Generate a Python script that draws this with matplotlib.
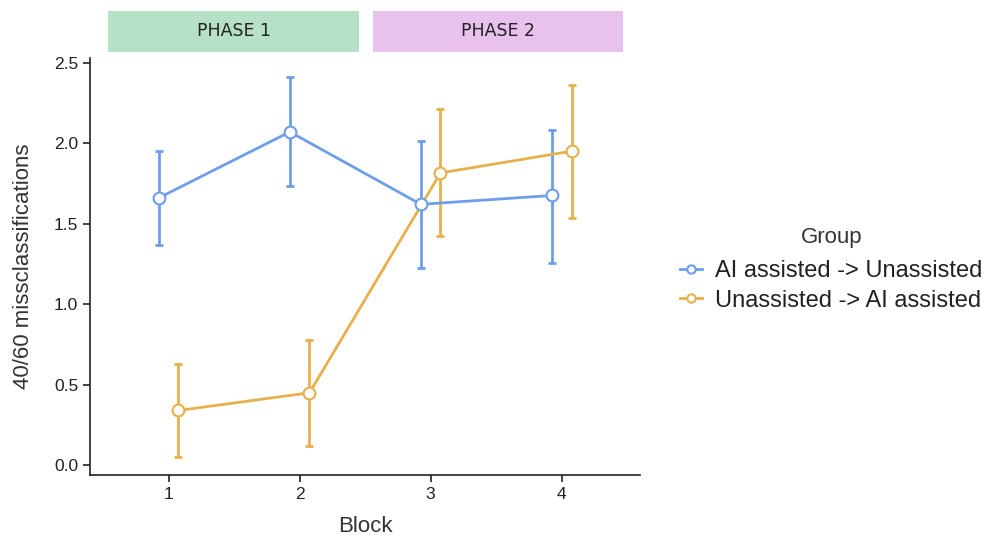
import matplotlib.pyplot as plt
from matplotlib.transforms import blended_transform_factory
from matplotlib.lines import Line2D
import numpy as np

plt.rcParams['font.family'] = ['Liberation Sans', 'DejaVu Sans']

# Data
blocks = [1, 2, 3, 4]
groups = ["AI assisted -> Unassisted", "Unassisted -> AI assisted"]
colors = ["#6d9eeb", "#e8b04b"]

ai_first_mean = [1.66, 2.07, 1.62, 1.675]
ai_first_low = [1.37, 1.735, 1.225, 1.255]
ai_first_high = [1.95, 2.41, 2.015, 2.08]

unassisted_first_mean = [0.34, 0.45, 1.815, 1.95]
unassisted_first_low = [0.05, 0.12, 1.425, 1.535]
unassisted_first_high = [0.63, 0.78, 2.21, 2.36]

phases = ["PHASE 1", "PHASE 2"]
phase_colors = ["#b7e1c6", "#e8c1ec"]
phase_spans = [(0.54, 2.45), (2.56, 4.47)]

DODGE = 0.075

fig = plt.figure(figsize=(9.95, 5.45), dpi=100)
ax = fig.add_axes([0.0905, 0.128, 0.553, 0.766])

series = [
    (ai_first_mean, ai_first_low, ai_first_high, -DODGE),
    (unassisted_first_mean, unassisted_first_low, unassisted_first_high, DODGE),
]
for (mean, low, high, off), col in zip(series, colors):
    x = np.array(blocks) + off
    mean = np.array(mean)
    yerr = [mean - np.array(low), np.array(high) - mean]
    ax.errorbar(x, mean, yerr=yerr, fmt="none", ecolor=col, elinewidth=2,
                capsize=3, capthick=2, zorder=2)
    ax.plot(x, mean, "-", color=col, linewidth=2, zorder=3)
    ax.plot(x, mean, "o", markerfacecolor="white", markeredgecolor=col,
            markersize=8.5, markeredgewidth=1.5, zorder=4)

ax.set_xlim(0.4, 4.6)
ax.set_ylim(-0.062, 2.53)
ax.set_xticks(blocks)
ax.set_yticks([0.0, 0.5, 1.0, 1.5, 2.0, 2.5])
ax.set_yticklabels(["0.0", "0.5", "1.0", "1.5", "2.0", "2.5"])
for s in ["top", "right"]:
    ax.spines[s].set_visible(False)
for s in ["left", "bottom"]:
    ax.spines[s].set_linewidth(1.2)
    ax.spines[s].set_color("#222222")
ax.tick_params(labelsize=12.5, colors="#222222", length=5, width=1.2)
ax.set_xlabel("Block", fontsize=16, color="#333333", labelpad=10)
ax.set_ylabel("40/60 missclassifications", fontsize=16, color="#333333", labelpad=14)

# Phase strips above plot
trans = blended_transform_factory(ax.transData, fig.transFigure)
for name, col, (x0, x1) in zip(phases, phase_colors, phase_spans):
    ax.add_patch(plt.Rectangle((x0, 1 - 52 / 545), x1 - x0, 41 / 545,
                               transform=trans, facecolor=col, edgecolor="none",
                               clip_on=False))
    ax.text((x0 + x1) / 2, 1 - 31.5 / 545, name, transform=trans,
            ha="center", va="center", fontsize=12.5, color="#222222",
            family=["DejaVu Sans"])

# Legend
handles = [Line2D([0], [0], color=c, linewidth=2, marker="o",
                  markerfacecolor="white", markeredgecolor=c, markersize=6,
                  markeredgewidth=1.5) for c in colors]
leg = fig.legend(handles, groups, loc="center left",
                 bbox_to_anchor=(680 / 995, 1 - 286 / 545), frameon=False,
                 fontsize=17, handlelength=0.95, handletextpad=0.55,
                 labelspacing=0.3, borderpad=0, borderaxespad=0)
for t in leg.get_texts():
    t.set_color("#222222")
fig.text(832 / 995, 1 - 237 / 545, "Group", ha="center", va="center",
         fontsize=16, color="#333333")

fig.savefig("out.png", dpi=100)
